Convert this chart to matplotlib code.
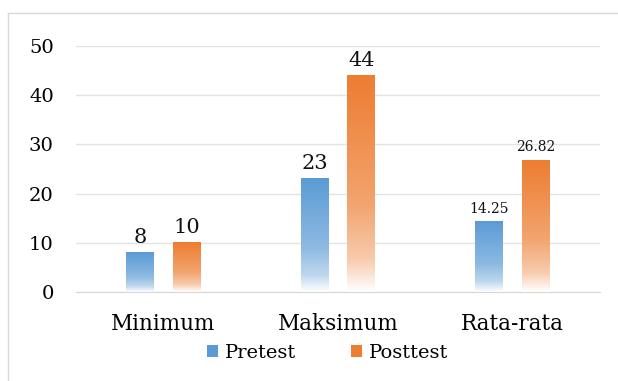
import numpy as np
import matplotlib.pyplot as plt
from matplotlib.colors import LinearSegmentedColormap, to_rgb
from matplotlib.lines import Line2D

categories = ['Minimum', 'Maksimum', 'Rata-rata']
pretest = [8, 23, 14.25]
posttest = [10, 44, 26.82]
pretest_labels = ['8', '23', '14.25']
posttest_labels = ['10', '44', '26.82']
series_names = ['Pretest', 'Posttest']
colors = ['#5B9BD5', '#ED7D31']

plt.rcParams['font.family'] = ['DejaVu Serif']


def fade_cmap(base):
    # solid at the top, lighter towards the bottom, white at the base
    c = np.array(to_rgb(base))
    w = np.ones(3)
    stops = [(0.0, c), (0.6, c * 0.7 + w * 0.3), (0.85, c * 0.4 + w * 0.6), (1.0, w)]
    return LinearSegmentedColormap.from_list('fade', [(p, tuple(col)) for p, col in stops])


fig = plt.figure(figsize=(6.18, 3.81), dpi=100)
ax = fig.add_axes([0.123, 0.2336, 0.848, 0.6457])

x = np.arange(len(categories))
width = 0.16
offset = 0.134
grad = np.linspace(0, 1, 256).reshape(-1, 1)

for vals, labels, col, sign in [(pretest, pretest_labels, colors[0], -1),
                                (posttest, posttest_labels, colors[1], 1)]:
    cmap = fade_cmap(col)
    for xi, v, lab in zip(x, vals, labels):
        x0 = xi + sign * offset - width / 2
        ax.imshow(grad, extent=[x0, x0 + width, 0, v], aspect='auto',
                  cmap=cmap, vmin=0, vmax=1, zorder=3, interpolation='bilinear')
        fs = 10 if '.' in lab else 15
        ax.annotate(lab, (xi + sign * offset, v), xytext=(0, 4),
                    textcoords='offset points', ha='center', va='bottom',
                    fontsize=fs, color='#111111')

ax.set_xlim(-0.5, 2.5)
ax.set_ylim(0, 50)
ax.set_yticks(range(0, 51, 10))
ax.set_xticks(x)
ax.set_xticklabels(categories, fontsize=15.5)
ax.tick_params(axis='y', length=0, pad=16, labelsize=14)
ax.tick_params(axis='x', length=0, pad=15)
ax.grid(axis='y', color='#E3E3E3', linewidth=1.0, zorder=0)
ax.set_axisbelow(True)
for s in ['top', 'right', 'left']:
    ax.spines[s].set_visible(False)
ax.spines['bottom'].set_color('#D6D6D6')

# legend
handles = [plt.Rectangle((0, 0), 1, 1, facecolor=c, edgecolor='none') for c in colors]
fig.legend(handles, series_names, loc='center', bbox_to_anchor=(0.53, 0.073),
           ncol=2, frameon=False, fontsize=14, handlelength=0.55, handleheight=0.55,
           handletextpad=0.35, columnspacing=2.85)

# chart border
ytop = 1 - 13 / 381
xl = 8 / 618
fig.add_artist(Line2D([xl, xl], [0, ytop], transform=fig.transFigure, color='#D9D9D9', lw=1))
fig.add_artist(Line2D([xl, 1], [ytop, ytop], transform=fig.transFigure, color='#D9D9D9', lw=1))

fig.savefig('out.png', dpi=100)
